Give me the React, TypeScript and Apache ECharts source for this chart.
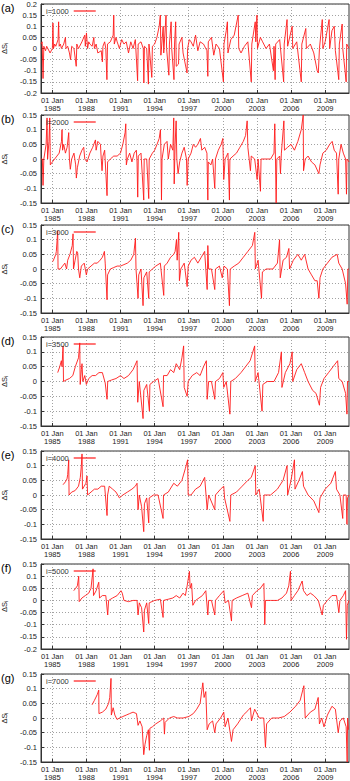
import React, { useEffect, useRef } from 'react';
import * as echarts from 'echarts';

const yearTicks = [1985, 1988, 1991, 1994, 1997, 2000, 2003, 2006, 2009];
const panelLetters = ['(a)', '(b)', '(c)', '(d)', '(e)', '(f)', '(g)'];
const legendNames = ['i=1000', 'i=2000', 'i=3000', 'i=3500', 'i=4000', 'i=5000', 'i=7000'];
const yMins = [-0.2, -0.15, -0.15, -0.15, -0.15, -0.2, -0.15];
const yMaxs = [0.2, 0.15, 0.15, 0.15, 0.15, 0.15, 0.15];

const dataA: [number, number][] = [
  [1984.0, 0.02], [1984.1, 0.03], [1984.18, -0.135], [1984.25, 0.01], [1984.4, -0.01], [1984.5, 0.01], [1984.6, 0.0], [1984.8, -0.02],
  [1985.0, 0.0], [1985.05, 0.115], [1985.1, 0.0], [1985.2, 0.02], [1985.3, 0.01], [1985.5, 0.04], [1985.55, 0.12], [1985.6, 0.01],
  [1985.7, 0.02], [1985.8, 0.0], [1986.0, 0.02], [1986.15, 0.05], [1986.2, 0.0], [1986.35, 0.01], [1986.5, -0.02], [1986.6, -0.05], [1986.7, 0.01],
  [1986.9, 0.0], [1987.1, -0.08], [1987.15, 0.02], [1987.3, 0.0], [1987.4, 0.01], [1987.6, 0.03], [1987.85, 0.06], [1987.9, 0.01],
  [1988.0, 0.07], [1988.1, 0.0], [1988.2, 0.03], [1988.3, 0.02], [1988.5, 0.01], [1988.65, 0.05], [1988.7, 0.0], [1988.85, 0.02], [1989.0, -0.02],
  [1989.3, -0.01], [1989.4, -0.06], [1989.45, 0.01], [1989.6, 0.03], [1989.7, 0.0], [1989.8, -0.14], [1989.85, 0.02], [1990.1, 0.03],
  [1990.35, 0.06], [1990.4, 0.15], [1990.45, 0.02], [1990.6, 0.05], [1990.7, 0.03], [1990.9, 0.0], [1991.1, 0.04], [1991.3, 0.02],
  [1991.5, 0.03], [1991.7, -0.02], [1991.9, 0.03], [1992.1, 0.0], [1992.3, 0.04], [1992.5, -0.145], [1992.55, 0.02],
  [1992.8, 0.03], [1993.0, 0.0], [1993.05, -0.155], [1993.1, 0.01], [1993.3, 0.0], [1993.45, -0.16], [1993.5, 0.02],
  [1993.75, -0.13], [1993.8, 0.01], [1994.0, 0.02], [1994.2, 0.05], [1994.4, 0.1], [1994.5, 0.15], [1994.55, -0.03],
  [1994.75, 0.1], [1994.8, -0.02], [1995.0, 0.15], [1995.05, 0.0], [1995.25, -0.12], [1995.3, 0.02], [1995.45, 0.12],
  [1995.5, 0.0], [1995.7, -0.14], [1995.75, 0.02], [1995.85, 0.12], [1995.9, -0.08], [1996.1, -0.07], [1996.15, 0.02],
  [1996.4, 0.05], [1996.5, -0.02], [1996.85, -0.11], [1996.9, 0.0], [1997.05, 0.04], [1997.2, 0.03], [1997.4, 0.01], [1997.6, 0.06],
  [1997.8, -0.01], [1998.0, 0.03], [1998.3, 0.02], [1998.6, -0.01], [1998.68, -0.125], [1998.72, 0.03], [1999.0, 0.05],
  [1999.2, -0.03], [1999.4, 0.02], [1999.7, 0.0], [2000.05, -0.15], [2000.1, 0.02], [2000.3, 0.08], [2000.4, 0.12],
  [2000.45, -0.02], [2000.7, 0.04], [2001.0, 0.06], [2001.35, 0.15], [2001.4, 0.0], [2001.6, -0.02], [2001.9, 0.01],
  [2002.2, 0.03], [2002.5, -0.15], [2002.55, 0.02], [2002.85, 0.12], [2002.9, 0.03], [2003.0, 0.15], [2003.05, 0.0],
  [2003.3, 0.05], [2003.5, 0.03], [2003.8, 0.0], [2004.1, 0.02], [2004.45, -0.1], [2004.5, 0.01], [2004.6, -0.14],
  [2004.65, 0.02], [2005.0, 0.04], [2005.35, -0.15], [2005.4, 0.02], [2005.65, 0.13], [2005.7, 0.01], [2006.1, 0.1],
  [2006.15, 0.0], [2006.5, 0.03], [2006.9, -0.15], [2006.95, 0.02], [2007.3, 0.09], [2007.35, 0.0], [2007.7, 0.02],
  [2008.0, -0.02], [2008.3, -0.1], [2008.4, -0.11], [2008.5, 0.0], [2008.75, 0.13], [2008.8, 0.0], [2009.0, 0.03],
  [2009.35, 0.13], [2009.4, 0.0], [2009.6, 0.08], [2009.8, 0.1], [2009.9, -0.01], [2010.2, -0.14], [2010.25, 0.02],
  [2010.5, 0.11], [2010.55, 0.0], [2010.85, -0.15], [2010.9, 0.02], [2011.1, 0.0],
];

const dataB: [number, number][] = [
  [1984.0, 0.0], [1984.12, 0.0], [1984.18, -0.09], [1984.25, 0.0], [1984.45, 0.05], [1984.53, 0.14], [1984.58, 0.0],
  [1984.7, 0.06], [1984.77, 0.14], [1984.82, -0.02], [1985.0, -0.01], [1985.2, 0.0], [1985.4, 0.01], [1985.6, 0.02],
  [1985.8, 0.06], [1985.85, 0.1], [1985.9, 0.03], [1986.0, 0.05], [1986.15, 0.02], [1986.3, 0.04], [1986.44, 0.09],
  [1986.5, 0.0], [1986.58, -0.035], [1986.7, 0.0], [1986.9, 0.02], [1987.05, -0.02], [1987.11, -0.065], [1987.2, -0.03],
  [1987.4, 0.01], [1987.6, 0.03], [1987.76, 0.04], [1987.85, 0.0], [1988.05, -0.01], [1988.3, 0.02], [1988.55, 0.04],
  [1988.79, 0.065], [1988.85, 0.03], [1989.0, 0.06], [1989.23, 0.05], [1989.3, 0.0], [1989.37, -0.04], [1989.45, 0.01],
  [1989.6, 0.03], [1989.81, -0.125], [1989.86, -0.01], [1990.1, 0.0], [1990.4, 0.01], [1990.7, 0.01], [1990.99, 0.02],
  [1991.2, 0.05], [1991.4, 0.09], [1991.46, 0.12], [1991.51, -0.02], [1991.6, 0.0], [1991.8, 0.02], [1992.0, -0.01],
  [1992.2, 0.02], [1992.39, 0.03], [1992.45, -0.01], [1992.51, -0.13], [1992.56, 0.01], [1992.8, 0.02], [1993.04, -0.14],
  [1993.08, 0.0], [1993.3, 0.0], [1993.48, -0.135], [1993.52, 0.0], [1993.8, 0.02], [1994.0, 0.03], [1994.21, 0.05],
  [1994.4, 0.07], [1994.51, 0.1], [1994.56, 0.01], [1994.6, -0.14], [1994.65, 0.0], [1994.85, 0.05], [1995.09, 0.06],
  [1995.2, 0.0], [1995.4, 0.05], [1995.6, 0.03], [1995.68, 0.14], [1995.72, -0.085], [1995.8, 0.05], [1995.89, 0.13],
  [1995.95, 0.0], [1996.06, -0.05], [1996.2, -0.01], [1996.4, 0.02], [1996.6, 0.04], [1996.8, 0.0], [1996.86, -0.09],
  [1996.95, 0.0], [1997.2, 0.02], [1997.4, 0.05], [1997.6, 0.04], [1997.8, 0.05], [1998.03, 0.07], [1998.15, 0.03],
  [1998.4, 0.04], [1998.6, 0.02], [1998.68, -0.14], [1998.72, -0.01], [1998.95, -0.02], [1999.1, 0.0], [1999.29, -0.1],
  [1999.35, 0.0], [1999.6, 0.03], [1999.85, 0.05], [2000.0, 0.07], [2000.08, -0.07], [2000.2, 0.0], [2000.45, 0.02],
  [2000.58, -0.14], [2000.62, 0.0], [2000.9, 0.01], [2001.2, 0.02], [2001.5, 0.04], [2001.8, 0.06], [2002.0, 0.08],
  [2002.14, 0.13], [2002.2, 0.04], [2002.43, -0.04], [2002.5, 0.01], [2002.8, 0.0], [2003.02, -0.07], [2003.1, 0.0],
  [2003.31, -0.11], [2003.36, 0.0], [2003.8, 0.0], [2004.2, 0.0], [2004.5, 0.02], [2004.57, 0.12], [2004.63, 0.0],
  [2004.69, -0.15], [2004.75, 0.0], [2005.0, 0.01], [2005.07, -0.05], [2005.15, 0.02], [2005.37, 0.13], [2005.42, 0.03],
  [2005.7, 0.04], [2006.0, 0.05], [2006.3, 0.03], [2006.6, 0.06], [2006.9, 0.1], [2007.07, 0.15], [2007.1, -0.04],
  [2007.25, 0.0], [2007.5, 0.01], [2007.8, -0.01], [2008.1, -0.02], [2008.45, -0.05], [2008.55, -0.02], [2008.8, 0.02],
  [2009.1, 0.03], [2009.4, 0.05], [2009.62, 0.06], [2009.8, 0.03], [2010.0, 0.02], [2010.15, -0.12], [2010.2, 0.0],
  [2010.4, 0.05], [2010.6, 0.02], [2010.8, 0.0], [2010.88, -0.12], [2010.92, 0.0], [2011.1, -0.01],
];

const dataC: [number, number][] = [
  [1985.03, 0.025], [1985.15, 0.035], [1985.3, 0.05], [1985.35, 0.06], [1985.47, 0.13], [1985.5, 0.0], [1985.7, 0.0],
  [1985.9, 0.01], [1986.1, 0.02], [1986.25, 0.0], [1986.35, 0.03], [1986.55, 0.05], [1986.75, 0.08], [1986.82, 0.12],
  [1986.86, 0.0], [1987.0, 0.03], [1987.15, 0.06], [1987.23, 0.055], [1987.3, 0.0], [1987.41, -0.03], [1987.55, 0.01],
  [1987.8, 0.02], [1987.99, -0.02], [1988.1, 0.0], [1988.4, 0.01], [1988.7, 0.02], [1988.95, 0.02], [1989.2, 0.03],
  [1989.4, 0.04], [1989.58, 0.06], [1989.65, 0.02], [1989.81, -0.105], [1989.86, -0.02], [1990.1, 0.0], [1990.4, 0.005],
  [1990.7, 0.01], [1991.0, 0.01], [1991.3, 0.015], [1991.6, 0.02], [1991.9, 0.03], [1992.16, 0.05], [1992.31, 0.105],
  [1992.36, 0.0], [1992.54, -0.1], [1992.6, -0.02], [1992.8, 0.0], [1992.98, -0.125], [1993.05, -0.03], [1993.3, -0.01],
  [1993.48, -0.1], [1993.52, -0.01], [1993.8, 0.0], [1994.1, 0.01], [1994.5, 0.02], [1994.8, -0.09], [1994.85, 0.01],
  [1995.1, 0.02], [1995.4, 0.04], [1995.68, 0.05], [1995.8, 0.06], [1995.92, 0.1], [1995.98, 0.03], [1996.12, 0.125],
  [1996.18, -0.04], [1996.3, 0.0], [1996.6, 0.02], [1996.86, -0.06], [1996.95, 0.01], [1997.2, 0.03], [1997.5, 0.04],
  [1997.8, 0.02], [1998.1, 0.04], [1998.4, 0.06], [1998.62, -0.07], [1998.68, 0.08], [1998.75, 0.0], [1999.0, 0.0],
  [1999.29, -0.07], [1999.35, 0.0], [1999.7, 0.01], [1999.95, -0.03], [2000.1, 0.01], [2000.4, 0.0], [2000.58, -0.125],
  [2000.65, 0.0], [2001.0, 0.01], [2001.4, 0.02], [2001.8, 0.04], [2002.2, 0.06], [2002.6, 0.08], [2002.81, 0.125],
  [2002.86, 0.0], [2003.1, 0.03], [2003.4, -0.1], [2003.48, -0.01], [2003.8, 0.0], [2004.4, 0.0], [2004.8, 0.02],
  [2004.99, 0.1], [2005.05, -0.03], [2005.3, 0.03], [2005.6, 0.04], [2005.81, 0.07], [2005.87, 0.0], [2006.2, 0.03],
  [2006.6, 0.05], [2006.9, 0.03], [2007.2, 0.05], [2007.5, 0.0], [2007.8, -0.02], [2008.1, -0.04], [2008.3, -0.04],
  [2008.45, -0.1], [2008.55, -0.03], [2008.8, 0.0], [2009.2, 0.02], [2009.6, 0.04], [2010.06, 0.05], [2010.2, 0.02],
  [2010.5, 0.0], [2010.8, -0.05], [2010.94, -0.12], [2011.0, 0.0], [2011.1, 0.0],
];

const dataD: [number, number][] = [
  [1985.47, 0.03], [1985.65, 0.05], [1985.79, 0.07], [1985.85, 0.05], [1985.94, 0.12], [1985.98, 0.0], [1986.2, 0.005],
  [1986.5, 0.01], [1986.8, 0.02], [1987.02, 0.05], [1987.3, 0.08], [1987.41, 0.13], [1987.45, -0.01], [1987.55, 0.04],
  [1987.61, 0.06], [1987.68, 0.0], [1987.85, 0.02], [1987.99, -0.01], [1988.2, 0.01], [1988.5, 0.02], [1988.8, 0.02],
  [1989.1, 0.03], [1989.4, 0.03], [1989.65, -0.005], [1989.81, -0.06], [1989.87, 0.0], [1990.2, 0.005], [1990.6, 0.01],
  [1991.0, 0.02], [1991.3, 0.01], [1991.7, 0.02], [1992.1, 0.04], [1992.45, 0.07], [1992.51, -0.07], [1992.65, 0.0],
  [1992.98, -0.125], [1993.05, -0.03], [1993.3, -0.01], [1993.54, -0.1], [1993.58, -0.01], [1993.9, 0.0], [1994.3, 0.01],
  [1994.74, -0.085], [1994.78, 0.02], [1995.1, 0.02], [1995.4, 0.04], [1995.68, 0.03], [1995.9, 0.06], [1996.2, 0.04],
  [1996.4, 0.08], [1996.55, 0.12], [1996.6, -0.02], [1996.86, -0.05], [1996.95, 0.0], [1997.3, 0.02], [1997.7, 0.03],
  [1998.0, 0.02], [1998.3, 0.05], [1998.55, 0.07], [1998.62, -0.06], [1998.75, 0.0], [1999.0, 0.0], [1999.29, -0.06],
  [1999.35, 0.0], [1999.7, 0.01], [2000.0, 0.03], [2000.08, -0.02], [2000.3, 0.0], [2000.62, -0.11], [2000.7, 0.0],
  [2001.1, 0.01], [2001.6, 0.03], [2002.0, 0.05], [2002.4, 0.07], [2002.8, 0.12], [2002.85, 0.0], [2003.1, 0.03],
  [2003.45, -0.1], [2003.52, -0.01], [2003.9, 0.0], [2004.5, 0.0], [2004.9, 0.03], [2005.15, 0.1], [2005.2, -0.02],
  [2005.5, 0.03], [2005.9, 0.06], [2006.1, 0.1], [2006.15, 0.0], [2006.5, 0.04], [2006.9, 0.06], [2007.2, 0.03],
  [2007.5, 0.0], [2007.9, -0.03], [2008.2, -0.04], [2008.5, -0.08], [2008.6, -0.02], [2008.9, 0.01], [2009.3, 0.03],
  [2009.7, 0.05], [2010.1, 0.07], [2010.2, 0.01], [2010.5, 0.0], [2010.8, -0.04], [2010.92, -0.11], [2010.97, 0.0],
  [2011.1, 0.0],
];

const dataE: [number, number][] = [
  [1985.94, 0.035], [1986.15, 0.045], [1986.29, 0.055], [1986.35, 0.07], [1986.44, 0.12], [1986.47, 0.0], [1986.7, 0.01],
  [1987.0, 0.015], [1987.3, 0.03], [1987.46, 0.06], [1987.55, 0.1], [1987.61, 0.14], [1987.65, 0.02], [1987.8, 0.03],
  [1987.95, 0.04], [1988.05, 0.065], [1988.1, 0.0], [1988.4, 0.01], [1988.7, 0.02], [1989.0, 0.02], [1989.3, 0.03],
  [1989.6, 0.03], [1989.81, -0.07], [1989.86, 0.0], [1990.0, 0.03], [1990.3, 0.02], [1990.6, 0.01], [1990.9, -0.01],
  [1991.2, 0.0], [1991.6, 0.01], [1992.0, 0.02], [1992.3, 0.03], [1992.45, 0.04], [1992.54, -0.05], [1992.65, 0.0],
  [1992.85, -0.04], [1993.04, -0.125], [1993.1, -0.03], [1993.3, -0.01], [1993.48, -0.095], [1993.52, -0.01], [1993.9, 0.0],
  [1994.3, 0.0], [1994.74, -0.08], [1994.78, 0.0], [1995.2, 0.01], [1995.68, 0.04], [1996.0, 0.03], [1996.4, 0.05],
  [1996.7, 0.09], [1996.9, 0.12], [1996.95, 0.0], [1997.2, 0.0], [1997.6, 0.02], [1998.0, 0.03], [1998.4, 0.06],
  [1998.62, -0.05], [1998.75, 0.0], [1999.29, -0.05], [1999.35, 0.0], [1999.8, 0.02], [2000.08, 0.03], [2000.15, -0.01],
  [2000.62, -0.09], [2000.7, 0.0], [2001.2, 0.01], [2001.7, 0.03], [2002.2, 0.05], [2002.5, 0.06], [2002.85, 0.1],
  [2002.9, 0.0], [2003.2, 0.02], [2003.55, -0.09], [2003.62, 0.0], [2004.2, 0.0], [2004.8, 0.02], [2005.3, 0.05],
  [2005.65, 0.1], [2005.7, 0.0], [2006.0, 0.05], [2006.3, 0.12], [2006.35, 0.02], [2006.7, 0.05], [2007.0, 0.08],
  [2007.1, 0.03], [2007.5, 0.0], [2008.0, -0.02], [2008.45, -0.06], [2008.55, -0.01], [2009.0, 0.02], [2009.5, 0.04],
  [2009.9, 0.08], [2010.0, 0.02], [2010.3, 0.0], [2010.55, -0.08], [2010.6, 0.0], [2010.85, 0.0], [2010.92, -0.1],
  [2010.97, -0.01], [2011.1, 0.0],
];

const dataF: [number, number][] = [
  [1986.88, 0.04], [1987.05, 0.05], [1987.2, 0.06], [1987.32, 0.1], [1987.36, -0.005], [1987.6, 0.01], [1987.9, 0.02],
  [1988.2, 0.03], [1988.4, 0.05], [1988.58, 0.13], [1988.62, 0.02], [1988.85, 0.04], [1989.08, 0.075], [1989.15, 0.01],
  [1989.4, 0.02], [1989.7, 0.02], [1989.87, -0.06], [1989.95, 0.0], [1990.3, 0.01], [1990.7, 0.02], [1991.04, 0.04],
  [1991.15, 0.03], [1991.3, 0.0], [1991.7, -0.005], [1992.1, 0.0], [1992.45, 0.0], [1992.54, -0.06], [1992.65, -0.01],
  [1992.85, -0.03], [1993.04, -0.13], [1993.1, -0.04], [1993.3, -0.01], [1993.48, -0.095], [1993.52, -0.01], [1994.0, 0.0],
  [1994.5, 0.005], [1994.74, -0.07], [1994.78, 0.0], [1995.2, 0.005], [1995.6, 0.01], [1995.9, 0.02], [1996.2, 0.01],
  [1996.5, 0.03], [1996.7, 0.02], [1996.86, 0.06], [1997.06, 0.12], [1997.12, 0.05], [1997.25, 0.07], [1997.36, -0.02],
  [1997.6, 0.0], [1997.9, 0.01], [1998.2, 0.02], [1998.5, 0.04], [1998.68, -0.06], [1998.75, 0.0], [1999.0, 0.0],
  [1999.29, -0.06], [1999.35, 0.0], [1999.7, 0.02], [2000.08, 0.04], [2000.2, -0.01], [2000.5, 0.0], [2000.76, -0.085],
  [2000.82, 0.0], [2001.2, 0.01], [2001.7, 0.02], [2002.2, 0.03], [2002.52, -0.03], [2002.6, 0.02], [2003.0, 0.04],
  [2003.3, 0.05], [2003.61, 0.07], [2003.69, -0.1], [2003.75, 0.0], [2004.2, 0.0], [2004.8, 0.0], [2005.2, 0.01],
  [2005.6, 0.03], [2005.8, 0.06], [2005.95, 0.12], [2006.0, 0.0], [2006.3, 0.02], [2006.6, 0.04], [2006.98, 0.08],
  [2007.1, 0.04], [2007.4, 0.02], [2007.7, 0.03], [2008.0, 0.02], [2008.4, 0.0], [2008.74, -0.06], [2008.85, -0.02],
  [2009.2, 0.0], [2009.6, 0.02], [2010.0, 0.02], [2010.21, -0.05], [2010.3, 0.0], [2010.6, 0.02], [2010.8, 0.04],
  [2010.88, -0.16], [2010.95, -0.02], [2011.1, 0.0],
];

const dataG: [number, number][] = [
  [1988.49, 0.045], [1988.7, 0.06], [1988.95, 0.08], [1989.08, 0.095], [1989.1, 0.015], [1989.4, 0.02], [1989.7, 0.03],
  [1989.95, 0.05], [1990.05, 0.07], [1990.16, 0.135], [1990.19, 0.01], [1990.35, 0.035], [1990.5, 0.01], [1990.69, -0.005],
  [1990.9, 0.0], [1991.2, 0.005], [1991.5, 0.01], [1991.8, 0.015], [1992.1, 0.02], [1992.4, 0.015], [1992.54, -0.025],
  [1992.7, -0.01], [1992.9, -0.03], [1993.04, -0.125], [1993.15, -0.09], [1993.3, -0.06], [1993.45, -0.04], [1993.54, -0.11],
  [1993.58, -0.035], [1993.8, -0.03], [1994.1, -0.02], [1994.5, -0.01], [1994.8, 0.0], [1994.86, -0.055], [1994.92, -0.015],
  [1995.3, 0.0], [1995.68, 0.005], [1996.0, 0.0], [1996.5, 0.0], [1997.0, 0.005], [1997.4, 0.015], [1997.7, 0.03],
  [1998.0, 0.05], [1998.24, 0.12], [1998.35, 0.07], [1998.5, 0.09], [1998.62, -0.04], [1998.8, -0.02], [1999.1, -0.01],
  [1999.29, -0.05], [1999.4, -0.02], [1999.8, 0.0], [2000.08, 0.02], [2000.2, -0.03], [2000.45, 0.0], [2000.76, -0.08],
  [2000.9, -0.04], [2001.3, -0.02], [2001.8, 0.01], [2002.2, 0.025], [2002.43, 0.035], [2002.52, -0.01], [2002.8, 0.03],
  [2003.2, 0.0], [2003.6, 0.0], [2003.75, -0.1], [2003.85, -0.02], [2004.3, 0.0], [2004.9, 0.0], [2005.4, 0.005],
  [2005.9, 0.02], [2006.4, 0.04], [2006.8, 0.06], [2007.13, 0.11], [2007.25, 0.0], [2007.7, 0.02], [2008.1, 0.03],
  [2008.39, 0.07], [2008.5, -0.02], [2008.7, 0.0], [2008.9, -0.03], [2009.2, 0.01], [2009.6, 0.04], [2009.9, 0.03],
  [2010.15, -0.05], [2010.3, -0.01], [2010.6, 0.0], [2010.85, -0.03], [2010.94, -0.15], [2010.98, 0.0], [2011.05, -0.04],
];

const panelData = [dataA, dataB, dataC, dataD, dataE, dataF, dataG];

const FONT = '"Liberation Sans", Arial, sans-serif';
const gridTops = [4, 115, 225, 337, 451, 564, 674];
const gridHeights = [89, 88, 88, 89, 88, 85, 88];
const X_MIN = 1984.0;
const X_MAX = 2011.1;

export default function App() {
  const ref = useRef<HTMLDivElement>(null);

  useEffect(() => {
    if (!ref.current) return;
    const chart = echarts.init(ref.current, undefined, { renderer: 'svg' });

    const grids: any[] = [];
    const xAxes: any[] = [];
    const yAxes: any[] = [];
    const series: any[] = [];
    const legends: any[] = [];
    const graphics: any[] = [];

    panelData.forEach((data, i) => {
      grids.push({
        left: 41,
        width: 308,
        top: gridTops[i],
        height: gridHeights[i],
        show: true,
        borderColor: '#333',
        borderWidth: 1,
        backgroundColor: 'transparent',
        containLabel: false,
        outerBoundsMode: 'none',
      });
      xAxes.push({
        type: 'value',
        gridIndex: i,
        position: 'bottom',
        min: X_MIN,
        max: X_MAX,
        axisLine: { show: true, onZero: false, lineStyle: { color: '#333', width: 1 } },
        axisTick: { show: true, inside: true, length: 3, customValues: yearTicks, lineStyle: { color: '#333' } },
        axisLabel: {
          show: true,
          customValues: yearTicks,
          formatter: (v: number) => '01 Jan\n' + Math.round(v),
          fontSize: 7.5,
          lineHeight: 8,
          color: '#222',
          fontFamily: FONT,
          margin: 3,
          hideOverlap: false,
        },
        splitLine: { show: true, lineStyle: { color: '#8a8a8a', type: [1, 2], width: 0.8 } },
      });
      yAxes.push({
        type: 'value',
        gridIndex: i,
        position: 'left',
        min: yMins[i],
        max: yMaxs[i],
        interval: 0.05,
        name: 'ΔS{sub|i}',
        nameLocation: 'middle',
        nameRotate: 90,
        nameGap: 27,
        nameTextStyle: {
          fontSize: 7.5,
          color: '#222',
          fontFamily: FONT,
          rich: { sub: { fontSize: 5.5, verticalAlign: 'bottom', padding: [4, 0, 0, 0], fontFamily: FONT, color: '#222' } },
        },
        axisLine: { show: true, onZero: false, lineStyle: { color: '#333', width: 1 } },
        axisTick: { show: true, inside: true, length: 3, lineStyle: { color: '#333' } },
        axisLabel: { fontSize: 7.5, color: '#222', fontFamily: FONT, margin: 4 },
        splitLine: { show: true, lineStyle: { color: '#8a8a8a', type: [1, 2], width: 0.8 } },
      });
      series.push({
        name: legendNames[i],
        type: 'line',
        xAxisIndex: i,
        yAxisIndex: i,
        data,
        symbol: 'none',
        showSymbol: false,
        color: '#ff1a1a',
        lineStyle: { color: '#ff1a1a', width: 0.9 },
        clip: true,
      });
      legends.push({
        data: [{ name: legendNames[i], icon: 'rect' }],
        left: 46,
        top: gridTops[i] + 3,
        align: 'right',
        itemWidth: 22,
        itemHeight: 1.2,
        padding: 0,
        itemStyle: { color: '#ff1a1a', borderWidth: 0 },
        lineStyle: { width: 0 },
        textStyle: { fontSize: 7.5, color: '#333', fontFamily: FONT, padding: [0, 0, 0, 0] },
        selectedMode: false,
      });
      graphics.push({
        type: 'text',
        left: 1,
        top: gridTops[i] - 2,
        style: { text: panelLetters[i], font: '11px ' + FONT, fill: '#000' },
      });
    });

    chart.setOption({
      animation: false,
      backgroundColor: '#fff',
      grid: grids,
      xAxis: xAxes,
      yAxis: yAxes,
      series,
      legend: legends,
      graphic: graphics,
    });

    return () => chart.dispose();
  }, []);

  return (
    <div
      ref={ref}
      style={{ position: 'absolute', left: 0, top: 0, width: 350, height: 781 }}
    />
  );
}
